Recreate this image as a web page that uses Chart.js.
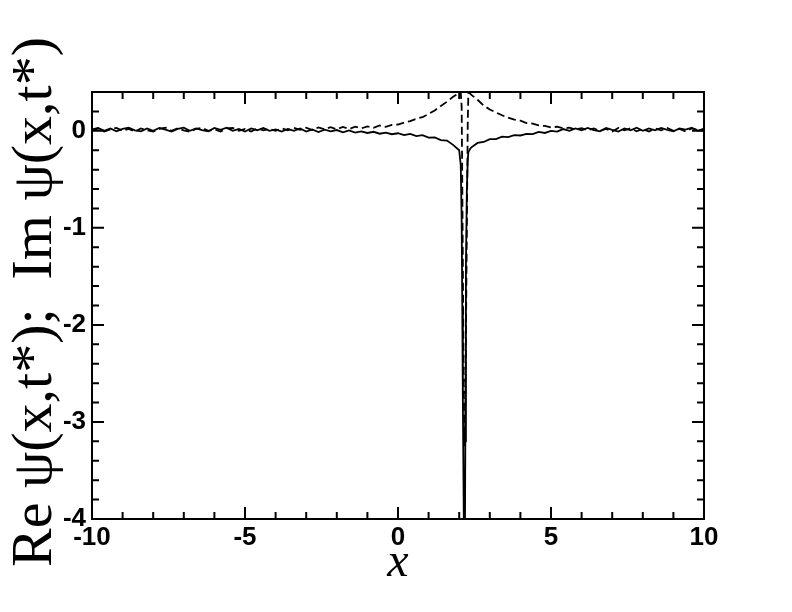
<!DOCTYPE html>
<html>
<head>
<meta charset="utf-8">
<script src="https://cdn.jsdelivr.net/npm/chart.js@4/dist/chart.umd.min.js"></script>
<style>
  html, body { margin: 0; padding: 0; background: #fff; }
  #wrap { width: 792px; height: 612px; }
</style>
</head>
<body>
<div id="wrap"><canvas id="c" width="792" height="612"></canvas></div>
<script>
// x positions shared by both curves (denser around the spike)
const xs = [
  -10, -9.8, -9.6, -9.4, -9.2, -9.0, -8.8, -8.6, -8.4, -8.2,
  -8.0, -7.8, -7.6, -7.4, -7.2, -7.0, -6.8, -6.6, -6.4, -6.2,
  -6.0, -5.8, -5.6, -5.4, -5.2, -5.0, -4.8, -4.6, -4.4, -4.2,
  -4.0, -3.8, -3.6, -3.4, -3.2, -3.0, -2.8, -2.6, -2.4, -2.2,
  -2.0, -1.8, -1.6, -1.4, -1.2, -1.0, -0.8, -0.6, -0.4, -0.2,
  0.0, 0.2, 0.4, 0.6, 0.8, 1.0, 1.2, 1.4, 1.6, 1.8,
  2.0, 2.05, 2.08, 2.1, 2.12, 2.14, 2.16, 2.18, 2.2, 2.22, 2.25, 2.28, 2.3, 2.35,
  2.4, 2.6, 2.8, 3.0, 3.2, 3.4, 3.6, 3.8, 4.0, 4.2,
  4.4, 4.6, 4.8, 5.0, 5.2, 5.4, 5.6, 5.8, 6.0, 6.2,
  6.4, 6.6, 6.8, 7.0, 7.2, 7.4, 7.6, 7.8, 8.0, 8.2,
  8.4, 8.6, 8.8, 9.0, 9.2, 9.4, 9.6, 9.8, 10
];

// Re psi (solid)
const reVals = [
  0.015, 0.03, 0.0, 0.025, -0.005, 0.02, 0.032, 0.005, -0.005, 0.025,
  0.0, 0.03, 0.012, -0.008, 0.02, 0.032, 0.0, 0.025, 0.008, -0.005,
  0.03, 0.01, 0.032, 0.0, 0.02, -0.008, 0.025, 0.006, 0.03, 0.0,
  0.015, -0.008, 0.02, 0.0, 0.025, -0.008, 0.015, -0.012, 0.012, -0.005,
  0.008, -0.015, 0.005, -0.018, -0.005, -0.022, -0.01, -0.03, -0.018, -0.035,
  -0.025, -0.045, -0.032, -0.055, -0.045, -0.07, -0.068, -0.095, -0.1, -0.145,
  -0.2, -0.35, -0.9, -1.8, -2.8, -3.6, -4.4, -4.8, -3.2, -1.4, -0.6, -0.3, -0.22, -0.19,
  -0.17, -0.125, -0.115, -0.085, -0.085, -0.06, -0.065, -0.045, -0.048, -0.032,
  -0.035, -0.012, -0.022, 0.0, -0.008, 0.018, 0.0, 0.025, 0.005, 0.03,
  0.008, -0.005, 0.03, 0.01, -0.008, 0.025, 0.005, 0.032, 0.0, 0.025,
  0.005, 0.03, 0.01, -0.005, 0.025, 0.012, 0.032, 0.0, 0.022
];

// Im psi (dashed)
const imVals = [
  0.0, 0.025, -0.008, 0.015, 0.03, 0.0, 0.02, -0.008, 0.025, 0.005,
  -0.008, 0.02, 0.032, 0.0, 0.025, 0.005, -0.01, 0.02, 0.03, 0.0,
  0.015, -0.008, 0.025, 0.03, 0.0, 0.02, -0.008, 0.025, 0.005, 0.02,
  0.0, 0.025, 0.005, 0.03, 0.01, 0.032, 0.008, 0.035, 0.015, 0.038,
  0.015, 0.04, 0.018, 0.042, 0.025, 0.045, 0.03, 0.055, 0.04, 0.062,
  0.065, 0.085, 0.1, 0.125, 0.14, 0.175, 0.21, 0.255, 0.3, 0.35,
  0.39, 0.40, 0.25, -0.5, -1.4, -2.3, -2.9, -3.25, -2.9, -2.1, -1.0, 0.1, 0.39, 0.385,
  0.37, 0.32, 0.26, 0.22, 0.19, 0.16, 0.135, 0.115, 0.105, 0.08,
  0.075, 0.055, 0.05, 0.035, 0.042, 0.025, 0.032, 0.015, 0.028, 0.005,
  0.025, 0.0, 0.02, -0.008, 0.03, 0.005, 0.025, -0.005, 0.02, -0.008,
  0.025, 0.005, 0.03, 0.0, 0.02, -0.008, 0.025, 0.01, 0.0
];

const xTicks = [-10, -5, 0, 5, 10];
const yTicks = [-4, -3, -2, -1, 0];
const yTitle = 'Re \u03C8(x,t*);  Im \u03C8(x,t*)';
const xTitle = 'x';

const tickFont = { family: 'Liberation Sans', size: 26, weight: 'bold' };

// frame, inward ticks on all four sides, axis titles
const frameAndTitles = {
  id: 'frameAndTitles',
  afterDraw(chart) {
    const { ctx, chartArea, scales } = chart;
    const { left, right, top, bottom } = chartArea;
    ctx.save();
    ctx.strokeStyle = '#000';
    ctx.lineWidth = 2;
    ctx.strokeRect(left, top, right - left, bottom - top);

    ctx.beginPath();
    for (let v = -10; v <= 10; v++) {
      const px = scales.x.getPixelForValue(v);
      const len = v % 5 === 0 ? 12 : 7;
      ctx.moveTo(px, bottom); ctx.lineTo(px, bottom - len);
      ctx.moveTo(px, top); ctx.lineTo(px, top + len);
    }
    for (let i = -20; i <= 2; i++) {
      const py = scales.y.getPixelForValue(i * 0.2);
      const len = i % 5 === 0 ? 12 : 7;
      ctx.moveTo(left, py); ctx.lineTo(left + len, py);
      ctx.moveTo(right, py); ctx.lineTo(right - len, py);
    }
    ctx.stroke();

    ctx.fillStyle = '#000';
    ctx.translate(51, 302);
    ctx.rotate(-Math.PI / 2);
    ctx.font = '58px "Liberation Serif"';
    ctx.textAlign = 'center';
    ctx.textBaseline = 'alphabetic';
    ctx.fillText(yTitle, 0, 0);
    ctx.setTransform(1, 0, 0, 1, 0, 0);

    ctx.font = 'italic 48px "Liberation Serif"';
    ctx.textAlign = 'center';
    ctx.fillText(xTitle, (left + right) / 2, 576);
    ctx.restore();
  }
};

new Chart(document.getElementById('c'), {
  type: 'line',
  data: {
    datasets: [
      {
        label: 'Im',
        data: xs.map((x, i) => ({ x, y: imVals[i] })),
        borderColor: '#000',
        borderWidth: 1.8,
        borderDash: [8, 4],
        pointRadius: 0,
        tension: 0,
      },
      {
        label: 'Re',
        data: xs.map((x, i) => ({ x, y: reVals[i] })),
        borderColor: '#000',
        borderWidth: 1.8,
        pointRadius: 0,
        tension: 0,
      },
    ],
  },
  options: {
    responsive: false,
    animation: false,
    layout: { padding: { top: 92, right: 88, left: 0, bottom: 0 } },
    plugins: { legend: { display: false }, tooltip: { enabled: false } },
    scales: {
      x: {
        type: 'linear',
        min: -10, max: 10,
        grid: { display: false, drawTicks: false },
        border: { display: false },
        afterBuildTicks: (s) => { s.ticks = xTicks.map(v => ({ value: v })); },
        afterFit: (s) => { s.height = 93; },
        ticks: { color: '#000', font: tickFont, padding: 3, maxRotation: 0 },
      },
      y: {
        min: -4, max: 0.4,
        grid: { display: false, drawTicks: false },
        border: { display: false },
        afterBuildTicks: (s) => { s.ticks = yTicks.map(v => ({ value: v })); },
        afterFit: (s) => { s.width = 92; },
        ticks: { color: '#000', font: tickFont, padding: 6 },
      },
    },
  },
  plugins: [frameAndTitles],
});
</script>
</body>
</html>
